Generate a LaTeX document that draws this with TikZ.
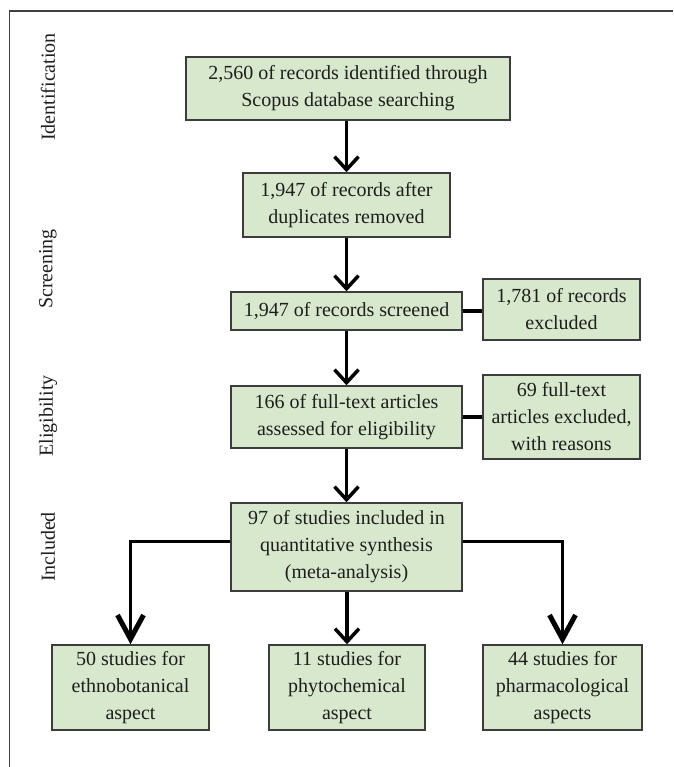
\documentclass[tikz,border=0pt]{standalone}
\usepackage{fontspec}
\setmainfont{Liberation Serif}
\usetikzlibrary{arrows.meta}
\definecolor{boxfill}{RGB}{215,232,205}
\definecolor{boxline}{RGB}{60,60,60}
\definecolor{txt}{RGB}{30,30,30}
\begin{document}
\begin{tikzpicture}[x=1pt,y=-1pt,
  every node/.style={font=\fontsize{20pt}{27pt}\selectfont, text=txt},
  flowbox/.style={draw=boxline, fill=boxfill, line width=1.5pt, align=center, inner sep=0pt},
  stagelabel/.style={rotate=90, inner sep=0pt},
  link/.style={line width=3.5pt, black},
  flow/.style={line width=3.5pt, black, -{Straight Barb[length=13pt,width=24pt,line width=3.5pt]}},
  bigflow/.style={line width=3pt, black, -{Straight Barb[length=24pt,width=26pt,line width=5pt]}}
]
\useasboundingbox (0,0) rectangle (673,767);
\draw[line width=1.4pt, black!75] (9.5,767) -- (9.5,11) -- (673,11);

\node[stagelabel] (l1) at (48,87) {Identification};
\node[stagelabel] (l2) at (48,269) {Screening};
\node[stagelabel] (l3) at (48,416) {Eligibility};
\node[stagelabel] (l4) at (48,547) {Included};

\node[flowbox, minimum width=324pt, minimum height=63pt] (b1) at (348,88.5)
  {2,560 of records identified through\\Scopus database searching};
\node[flowbox, minimum width=207pt, minimum height=64pt] (b2) at (346.5,205)
  {1,947 of records after\\duplicates removed};
\node[flowbox, minimum width=231pt, minimum height=38pt] (b3) at (346.5,311)
  {1,947 of records screened};
\node[flowbox, minimum width=157pt, minimum height=61pt] (b4) at (561.5,309.5)
  {1,781 of records\\excluded};
\node[flowbox, minimum width=231pt, minimum height=62pt] (b5) at (346.5,417)
  {166 of full-text articles\\assessed for eligibility};
\node[flowbox, minimum width=157pt, minimum height=84pt] (b6) at (561.5,417)
  {69 full-text\\articles excluded,\\with reasons};
\node[flowbox, minimum width=231pt, minimum height=88pt] (b7) at (346.5,547)
  {97 of studies included in\\quantitative synthesis\\(meta-analysis)};
\node[flowbox, minimum width=157pt, minimum height=85pt] (bL) at (130.5,687.5)
  {50 studies for\\ethnobotanical\\aspect};
\node[flowbox, minimum width=156pt, minimum height=85pt] (bM) at (347,687.5)
  {11 studies for\\phytochemical\\aspect};
\node[flowbox, minimum width=159pt, minimum height=85pt] (bR) at (562.5,687.5)
  {44 studies for\\pharmacological\\aspects};

\draw[flow] (b2.north |- b1.south) -- (b2.north);
\draw[flow] (b2.south) -- (b3.north);
\draw[flow] (b3.south) -- (b5.north);
\draw[flow] (b5.south) -- (b7.north);
\draw[link] (b3.east) -- (b3.east -| b4.west);
\draw[link] (b5.east) -- (b5.east -| b6.west);
\draw[flow] (bM.north |- b7.south) -- (bM.north);
\draw[bigflow] ([yshift=6pt]b7.west) -| (bL.north);
\draw[bigflow] ([yshift=6pt]b7.east) -| (bR.north);
\end{tikzpicture}
\end{document}
